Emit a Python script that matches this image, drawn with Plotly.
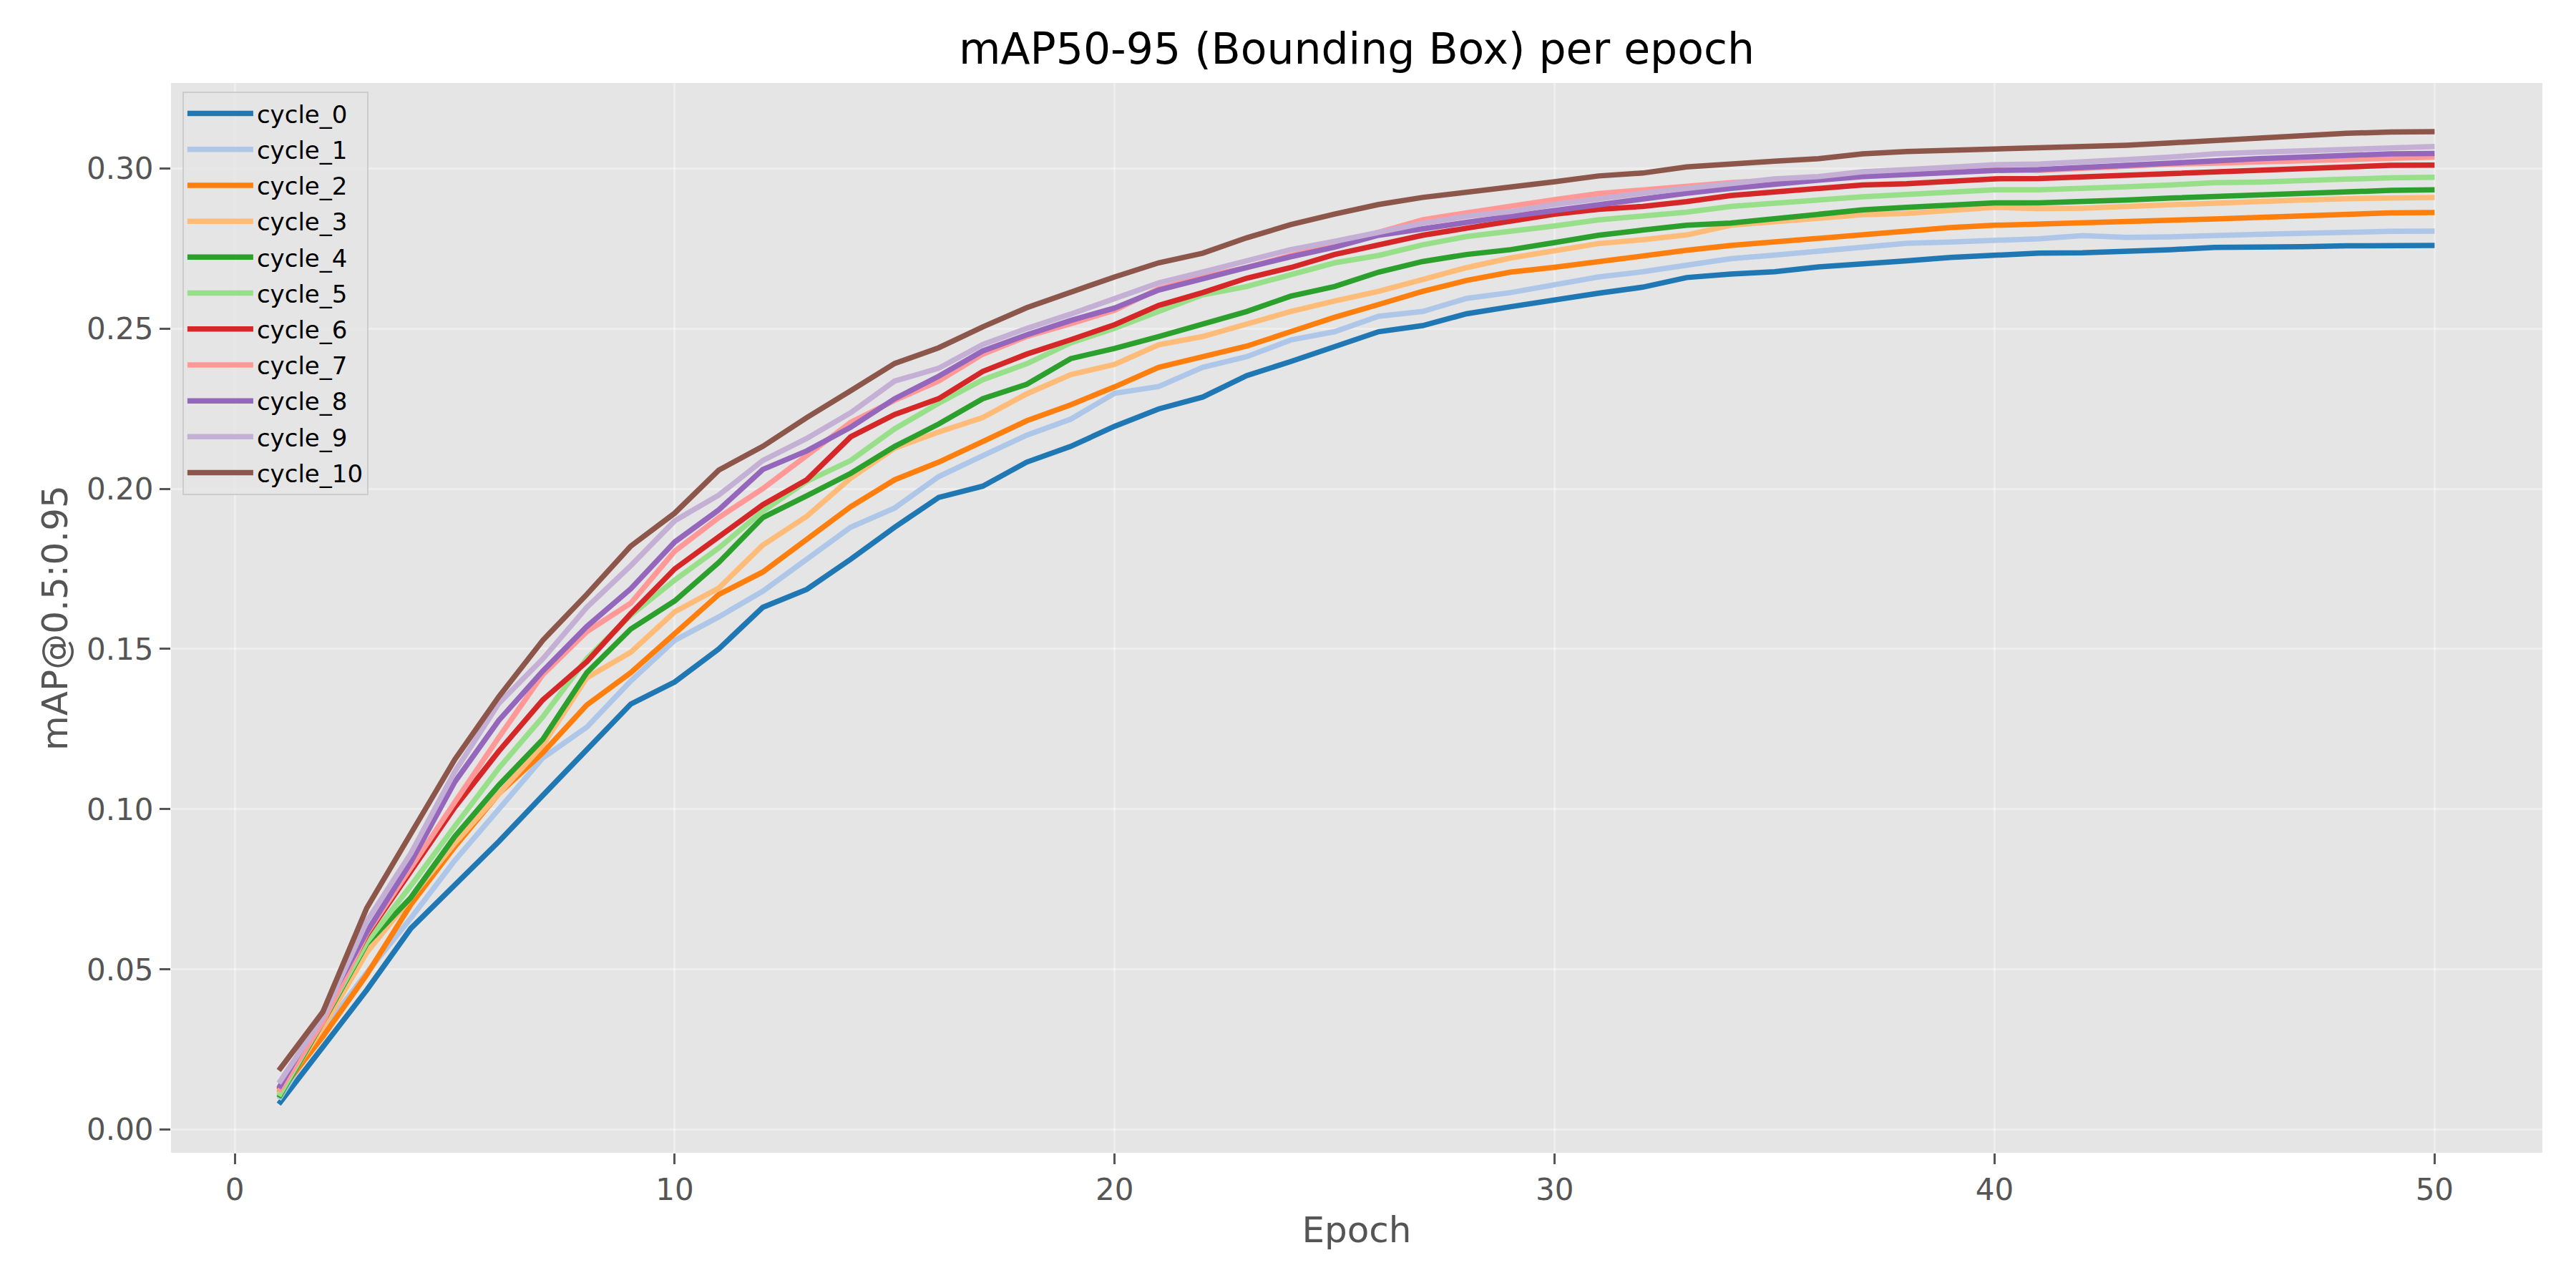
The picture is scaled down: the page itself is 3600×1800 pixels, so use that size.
import plotly.graph_objects as go

# mAP50-95 per epoch for each active-learning cycle
epochs = list(range(1, 51))

cycle_0 = [0.0080, 0.0255, 0.0436, 0.0628, 0.0766, 0.0899, 0.1043, 0.1187, 0.1328, 0.1397,
           0.1500, 0.1630, 0.1686, 0.1780, 0.1880, 0.1973, 0.2008, 0.2083, 0.2132, 0.2195,
           0.2249, 0.2286, 0.2353, 0.2397, 0.2445, 0.2490, 0.2509, 0.2546, 0.2568, 0.2590,
           0.2610, 0.2629, 0.2659, 0.2670, 0.2677, 0.2692, 0.2700, 0.2711, 0.2722, 0.2729,
           0.2735, 0.2736, 0.2740, 0.2746, 0.2753, 0.2753, 0.2755, 0.2758, 0.2759, 0.2759]
cycle_1 = [0.0095, 0.0310, 0.0490, 0.0660, 0.0840, 0.1000, 0.1160, 0.1256, 0.1400, 0.1527,
           0.1600, 0.1680, 0.1780, 0.1880, 0.1940, 0.2038, 0.2103, 0.2167, 0.2217, 0.2298,
           0.2319, 0.2379, 0.2412, 0.2464, 0.2490, 0.2538, 0.2553, 0.2594, 0.2612, 0.2638,
           0.2661, 0.2677, 0.2696, 0.2718, 0.2729, 0.2740, 0.2751, 0.2766, 0.2770, 0.2774,
           0.2780, 0.2790, 0.2784, 0.2786, 0.2792, 0.2794, 0.2797, 0.2801, 0.2803, 0.2804]
cycle_2 = [0.0115, 0.0290, 0.0484, 0.0702, 0.0883, 0.1048, 0.1176, 0.1325, 0.1426, 0.1550,
           0.1670, 0.1740, 0.1844, 0.1944, 0.2028, 0.2083, 0.2147, 0.2212, 0.2262, 0.2318,
           0.2379, 0.2412, 0.2445, 0.2490, 0.2535, 0.2575, 0.2616, 0.2650, 0.2676, 0.2691,
           0.2709, 0.2729, 0.2744, 0.2759, 0.2770, 0.2785, 0.2796, 0.2807, 0.2815, 0.2822,
           0.2825, 0.2829, 0.2835, 0.2838, 0.2842, 0.2847, 0.2852, 0.2855, 0.2861, 0.2862]
cycle_3 = [0.0110, 0.0320, 0.0553, 0.0724, 0.0894, 0.1048, 0.1200, 0.1410, 0.1490, 0.1616,
           0.1690, 0.1824, 0.1914, 0.2033, 0.2127, 0.2177, 0.2222, 0.2296, 0.2356, 0.2388,
           0.2449, 0.2475, 0.2516, 0.2553, 0.2586, 0.2616, 0.2653, 0.2690, 0.2720, 0.2742,
           0.2765, 0.2777, 0.2792, 0.2822, 0.2833, 0.2840, 0.2855, 0.2859, 0.2870, 0.2878,
           0.2874, 0.2875, 0.2881, 0.2887, 0.2892, 0.2898, 0.2901, 0.2905, 0.2908, 0.2909]
cycle_4 = [0.0100, 0.0335, 0.0580, 0.0724, 0.0915, 0.1075, 0.1218, 0.1426, 0.1562, 0.1650,
           0.1770, 0.1910, 0.1978, 0.2048, 0.2132, 0.2202, 0.2281, 0.2326, 0.2406, 0.2438,
           0.2475, 0.2512, 0.2553, 0.2601, 0.2631, 0.2676, 0.2709, 0.2731, 0.2746, 0.2768,
           0.2791, 0.2807, 0.2822, 0.2829, 0.2844, 0.2859, 0.2870, 0.2878, 0.2885, 0.2892,
           0.2892, 0.2895, 0.2901, 0.2907, 0.2912, 0.2918, 0.2924, 0.2927, 0.2931, 0.2933]
cycle_5 = [0.0105, 0.0340, 0.0585, 0.0761, 0.0947, 0.1128, 0.1288, 0.1470, 0.1605, 0.1715,
           0.1815, 0.1930, 0.2023, 0.2088, 0.2187, 0.2267, 0.2340, 0.2390, 0.2455, 0.2501,
           0.2553, 0.2605, 0.2631, 0.2668, 0.2705, 0.2728, 0.2761, 0.2787, 0.2802, 0.2820,
           0.2839, 0.2852, 0.2863, 0.2881, 0.2892, 0.2904, 0.2911, 0.2918, 0.2926, 0.2933,
           0.2933, 0.2936, 0.2942, 0.2948, 0.2955, 0.2957, 0.2963, 0.2966, 0.2970, 0.2972]
cycle_6 = [0.0125, 0.0350, 0.0607, 0.0803, 0.1006, 0.1181, 0.1341, 0.1460, 0.1610, 0.1750,
           0.1850, 0.1950, 0.2028, 0.2162, 0.2232, 0.2281, 0.2366, 0.2420, 0.2465, 0.2512,
           0.2572, 0.2612, 0.2657, 0.2690, 0.2731, 0.2761, 0.2791, 0.2813, 0.2835, 0.2857,
           0.2872, 0.2881, 0.2896, 0.2915, 0.2926, 0.2937, 0.2948, 0.2952, 0.2959, 0.2967,
           0.2968, 0.2973, 0.2979, 0.2985, 0.2990, 0.2996, 0.3001, 0.3005, 0.3009, 0.3010]
cycle_7 = [0.0120, 0.0335, 0.0612, 0.0820, 0.1022, 0.1224, 0.1420, 0.1554, 0.1643, 0.1805,
           0.1910, 0.2000, 0.2103, 0.2207, 0.2276, 0.2336, 0.2420, 0.2475, 0.2515, 0.2557,
           0.2624, 0.2661, 0.2690, 0.2728, 0.2761, 0.2802, 0.2839, 0.2861, 0.2883, 0.2902,
           0.2921, 0.2933, 0.2941, 0.2955, 0.2963, 0.2967, 0.2978, 0.2985, 0.2993, 0.2996,
           0.2993, 0.3000, 0.3005, 0.3013, 0.3016, 0.3020, 0.3025, 0.3031, 0.3035, 0.3035]
cycle_8 = [0.0130, 0.0367, 0.0617, 0.0835, 0.1085, 0.1277, 0.1431, 0.1570, 0.1688, 0.1834,
           0.1934, 0.2060, 0.2118, 0.2192, 0.2281, 0.2351, 0.2430, 0.2480, 0.2525, 0.2564,
           0.2620, 0.2657, 0.2690, 0.2724, 0.2754, 0.2791, 0.2809, 0.2831, 0.2850, 0.2869,
           0.2887, 0.2907, 0.2922, 0.2937, 0.2952, 0.2963, 0.2974, 0.2981, 0.2987, 0.2993,
           0.2996, 0.3001, 0.3009, 0.3016, 0.3024, 0.3030, 0.3035, 0.3042, 0.3045, 0.3046]
cycle_9 = [0.0145, 0.0350, 0.0650, 0.0862, 0.1117, 0.1330, 0.1469, 0.1630, 0.1760, 0.1900,
           0.1980, 0.2088, 0.2157, 0.2237, 0.2336, 0.2376, 0.2450, 0.2500, 0.2545, 0.2594,
           0.2642, 0.2676, 0.2709, 0.2746, 0.2772, 0.2802, 0.2828, 0.2850, 0.2865, 0.2887,
           0.2906, 0.2922, 0.2937, 0.2952, 0.2967, 0.2974, 0.2989, 0.2996, 0.3004, 0.3011,
           0.3013, 0.3018, 0.3027, 0.3035, 0.3045, 0.3050, 0.3055, 0.3062, 0.3066, 0.3068]
cycle_10 = [0.0185, 0.0367, 0.0692, 0.0920, 0.1155, 0.1351, 0.1527, 0.1670, 0.1821, 0.1924,
            0.2058, 0.2132, 0.2222, 0.2306, 0.2391, 0.2440, 0.2505, 0.2565, 0.2615, 0.2661,
            0.2705, 0.2735, 0.2783, 0.2824, 0.2857, 0.2887, 0.2909, 0.2924, 0.2943, 0.2958,
            0.2976, 0.2985, 0.3004, 0.3015, 0.3022, 0.3030, 0.3045, 0.3052, 0.3056, 0.3059,
            0.3062, 0.3065, 0.3072, 0.3079, 0.3087, 0.3094, 0.3099, 0.3109, 0.3113, 0.3114]

series_names = ["cycle_0", "cycle_1", "cycle_2", "cycle_3", "cycle_4", "cycle_5",
                "cycle_6", "cycle_7", "cycle_8", "cycle_9", "cycle_10"]
series_values = [cycle_0, cycle_1, cycle_2, cycle_3, cycle_4, cycle_5,
                 cycle_6, cycle_7, cycle_8, cycle_9, cycle_10]

# tab20 colours
colors = ["#1f77b4", "#aec7e8", "#ff7f0e", "#ffbb78", "#2ca02c", "#98df8a",
          "#d62728", "#ff9896", "#9467bd", "#c5b0d5", "#8c564b"]

x_ticks = [0, 10, 20, 30, 40, 50]
y_ticks = [0.00, 0.05, 0.10, 0.15, 0.20, 0.25, 0.30]

FONT = "DejaVu Sans"
GREY = "#555555"

# the page body keeps its default 8px margin, so the figure is a bit smaller
W, H = 3584, 1784

fig = go.Figure()
for name, vals, col in zip(series_names, series_values, colors):
    fig.add_trace(go.Scatter(x=epochs, y=vals, mode="lines", name=name,
                             legendgroup=name,
                             line=dict(color=col, width=7.5)))

fig.update_layout(
    width=W, height=H,
    paper_bgcolor="white",
    plot_bgcolor="#E5E5E5",
    margin=dict(l=231, r=39, t=108, b=181),
    font=dict(family=FONT, color=GREY),
    title=dict(text="mAP50-95 (Bounding Box) per epoch",
               font=dict(family=FONT, size=60, color="black"),
               x=0.5, xanchor="center", xref="paper",
               y=1 - 60 / H, yref="container", yanchor="middle",
               automargin=False),
    legend=dict(x=0.0048, y=0.992, xanchor="left", yanchor="top",
                bgcolor="rgba(229,229,229,0.8)", bordercolor="#CCCCCC",
                borderwidth=2, font=dict(family=FONT, size=34, color="black"),
                tracegroupgap=3, itemwidth=92),
    showlegend=True,
)

fig.update_xaxes(
    range=[-1.45, 52.45], tickvals=x_ticks, automargin=False,
    ticks="outside", ticklen=15, tickwidth=3, tickcolor=GREY,
    tickfont=dict(family=FONT, size=42, color=GREY),
    showgrid=True, gridcolor="rgba(255,255,255,0.35)", gridwidth=3,
    zeroline=False, showline=False,
    title=dict(text="Epoch", font=dict(family=FONT, size=50, color=GREY), standoff=14),
)
fig.update_yaxes(
    range=[-0.0072, 0.3266], tickvals=y_ticks, tickformat=".2f", automargin=False,
    ticks="outside", ticklen=15, tickwidth=3, tickcolor=GREY,
    tickfont=dict(family=FONT, size=42, color=GREY),
    showgrid=True, gridcolor="rgba(255,255,255,0.35)", gridwidth=3,
    zeroline=False, showline=False,
    title=dict(text="mAP@0.5:0.95", font=dict(family=FONT, size=50, color=GREY), standoff=10),
)

fig.write_html("out.html")
